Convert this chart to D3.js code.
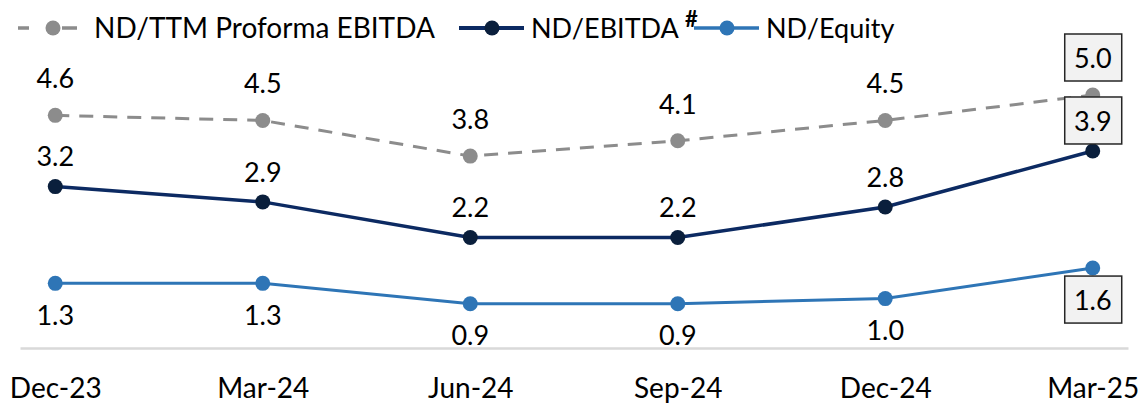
<!DOCTYPE html>
<html>
<head>
<meta charset="utf-8">
<script src="https://cdn.jsdelivr.net/npm/d3@7"></script>
<style>
  body { margin: 0; background: #fff; }
  #chart { width: 1145px; height: 406px; }
  text { font-family: Lato, "Open Sans", sans-serif; fill: #000; }
</style>
</head>
<body>
<div id="chart"></div>
<script>
// Data
const quarters = ["Dec-23", "Mar-24", "Jun-24", "Sep-24", "Dec-24", "Mar-25"];
const proformaEbitda = [4.6, 4.5, 3.8, 4.1, 4.5, 5.0];
const ndEbitda = [3.2, 2.9, 2.2, 2.2, 2.8, 3.9];
const ndEquity = [1.3, 1.3, 0.9, 0.9, 1.0, 1.6];

const series = [
    { name: "ND/TTM Proforma EBITDA", values: proformaEbitda, line: "#8c8c8c", dot: "#8c8c8c", dash: "14,10", width: 3, labelDy: -37 },
    { name: "ND/EBITDA", values: ndEbitda, line: "#0c2a62", dot: "#0a1f3c", dash: null, width: 3.5, labelDy: -30, sup: "#" },
    { name: "ND/Equity", values: ndEquity, line: "#2e75b6", dot: "#2e75b6", dash: null, width: 3, labelDy: 32 }
];

const width = 1145, height = 406;

d3.select("#chart").selectAll("*").remove();

const svg = d3.select("#chart")
    .append("svg")
    .attr("width", width)
    .attr("height", height);

// Scales
const x = d3.scalePoint()
    .domain(quarters)
    .range([20, 1128])
    .padding(0.17);

const y = d3.scaleLinear()
    .domain([0, 5])
    .range([349.5, 95]);

// X axis (light gray baseline + labels)
const xAxis = svg.append("g")
    .attr("transform", "translate(0,348)")
    .call(d3.axisBottom(x).tickSize(0).tickSizeOuter(0).tickPadding(30));

xAxis.select(".domain")
    .attr("stroke", "#d9d9d9")
    .attr("stroke-width", 2.5);

xAxis.selectAll("text")
    .style("font-family", "Lato, 'Open Sans', sans-serif")
    .style("font-size", "28px")
    .attr("fill", "#000");

// Lines and markers
const line = d3.line()
    .x((d, i) => x(quarters[i]))
    .y(d => y(d));

series.forEach(s => {
    svg.append("path")
        .datum(s.values)
        .attr("fill", "none")
        .attr("stroke", s.line)
        .attr("stroke-width", s.width)
        .attr("stroke-dasharray", s.dash)
        .attr("d", line);

    svg.append("g")
        .selectAll("circle")
        .data(s.values)
        .join("circle")
        .attr("cx", (d, i) => x(quarters[i]))
        .attr("cy", d => y(d))
        .attr("r", 7.5)
        .attr("fill", s.dot);
});

// Data labels (last point boxed)
const last = quarters.length - 1;
series.forEach(s => {
    const g = svg.append("g");
    s.values.forEach((v, i) => {
        const cx = x(quarters[i]);
        const cy = y(v) + s.labelDy;
        if (i === last) {
            g.append("rect")
                .attr("x", cx - 28)
                .attr("y", cy - 24)
                .attr("width", 57)
                .attr("height", 47)
                .attr("fill", "#f2f2f2")
                .attr("stroke", "#262626")
                .attr("stroke-width", 1.5);
        }
        g.append("text")
            .attr("x", cx)
            .attr("y", cy)
            .attr("dy", "0.36em")
            .attr("text-anchor", "middle")
            .style("font-size", "27px")
            .text(v.toFixed(1));
    });
});

// Legend
const legend = svg.append("g").attr("transform", "translate(0,28)");
const legendItems = [
    { s: series[0], x0: 18, x1: 77, mx: 53, tx: 94, fs: 28 },
    { s: series[1], x0: 459, x1: 524, mx: 492, tx: 531, fs: 27 },
    { s: series[2], x0: 694, x1: 759, mx: 727, tx: 766, fs: 27 }
];

legendItems.forEach(item => {
    const s = item.s;
    legend.append("line")
        .attr("x1", item.x0)
        .attr("x2", item.x1)
        .attr("y1", 0)
        .attr("y2", 0)
        .attr("stroke", s.line)
        .attr("stroke-width", s.width + 0.5)
        .attr("stroke-dasharray", s.dash ? "11,33,15" : null);
    legend.append("circle")
        .attr("cx", item.mx)
        .attr("cy", 0)
        .attr("r", 7.5)
        .attr("fill", s.dot);
    const t = legend.append("text")
        .attr("x", item.tx)
        .attr("y", 0)
        .attr("dy", "0.36em")
        .style("font-size", item.fs + "px")
        .text(s.name);
    if (s.sup) {
        t.append("tspan")
            .attr("dx", 6)
            .attr("dy", "-0.5em")
            .style("font-size", "22px")
            .style("font-weight", "bold")
            .text(s.sup);
    }
});
</script>
</body>
</html>
